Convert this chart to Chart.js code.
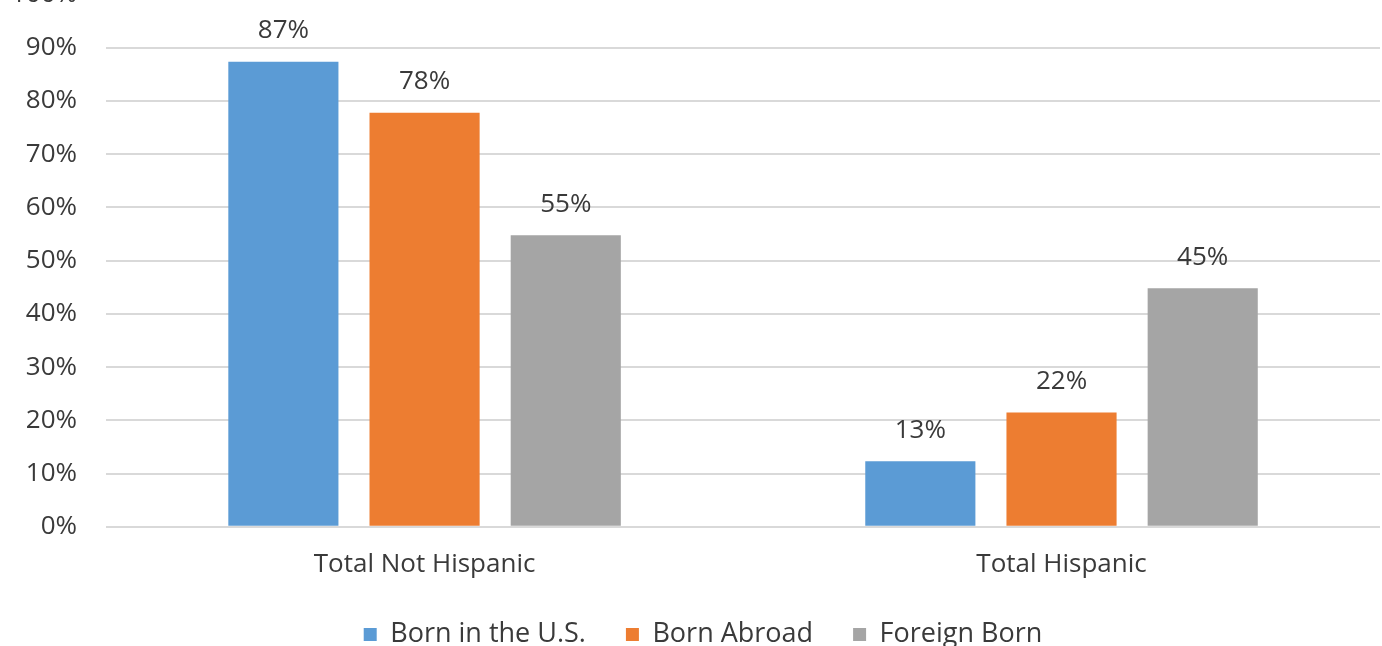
<!DOCTYPE html>
<html>
<head>
<meta charset="utf-8">
<script src="https://cdn.jsdelivr.net/npm/chart.js@4/dist/chart.umd.min.js"></script>
<style>
  html, body { margin: 0; padding: 0; background: #fff; overflow: hidden; }
  #wrap { position: absolute; left: -18px; top: -50px; width: 1400px; height: 721px; }
</style>
</head>
<body>
<div id="wrap"><canvas id="chart"></canvas></div>
<script>
// data
const categories = ['Total Not Hispanic', 'Total Hispanic'];
const seriesNames = ['Born in the U.S.', 'Born Abroad', 'Foreign Born'];
const bornUS = [87.4, 12.3];
const bornAbroad = [77.8, 21.5];
const foreignBorn = [54.8, 44.8];
const pointLabels = [[87, 13], [78, 22], [55, 45]];
const yTicks = [0, 10, 20, 30, 40, 50, 60, 70, 80, 90, 100];

const colors = ['#5b9bd5', '#ed7d31', '#a5a5a5'];
const font = '"Open Sans", "Noto Sans", sans-serif';
const textColor = '#3a3a3a';

// draws the value above each bar
const barLabels = {
    id: 'barLabels',
    afterDatasetsDraw(chart) {
        const ctx = chart.ctx;
        ctx.save();
        ctx.font = '26px ' + font;
        ctx.fillStyle = textColor;
        ctx.textAlign = 'center';
        ctx.textBaseline = 'middle';
        chart.data.datasets.forEach((ds, i) => {
            chart.getDatasetMeta(i).data.forEach((bar, j) => {
                ctx.fillText(pointLabels[i][j] + '%', bar.x, bar.y - 31);
            });
        });
        ctx.restore();
    }
};

// nudge the legend up and a bit right, without touching the plot area
const legendShift = {
    id: 'legendShift',
    afterLayout(chart) {
        const lg = chart.legend;
        if (!lg) return;
        lg.top -= 13; lg.bottom -= 13;
        lg.left += 22; lg.right += 22;
    }
};

new Chart(document.getElementById('chart'), {
    type: 'bar',
    data: {
        labels: categories,
        datasets: [bornUS, bornAbroad, foreignBorn].map((d, i) => ({
            label: seriesNames[i],
            data: d,
            backgroundColor: colors[i],
            categoryPercentage: 0.665,
            barPercentage: 0.78
        }))
    },
    options: {
        responsive: true,
        maintainAspectRatio: false,
        animation: false,
        layout: { padding: { top: 12, right: 2, left: 0, bottom: 0 } },
        scales: {
            x: {
                grid: { display: false },
                border: { display: false },
                ticks: { color: textColor, font: { family: font, size: 26 }, padding: 14 }
            },
            y: {
                min: 0,
                max: 100,
                afterBuildTicks: axis => { axis.ticks = yTicks.map(v => ({ value: v })); },
                grid: { color: '#d9d9d9', lineWidth: 2, drawTicks: false },
                border: { display: false },
                ticks: {
                    color: textColor,
                    font: { family: font, size: 26 },
                    padding: 29,
                    callback: v => v + '%'
                }
            }
        },
        plugins: {
            legend: {
                position: 'bottom',
                labels: {
                    color: textColor,
                    font: { family: font, size: 27 },
                    boxWidth: 13,
                    boxHeight: 13,
                    padding: 40
                }
            },
            tooltip: { enabled: false }
        }
    },
    plugins: [barLabels, legendShift]
});
</script>
</body>
</html>
